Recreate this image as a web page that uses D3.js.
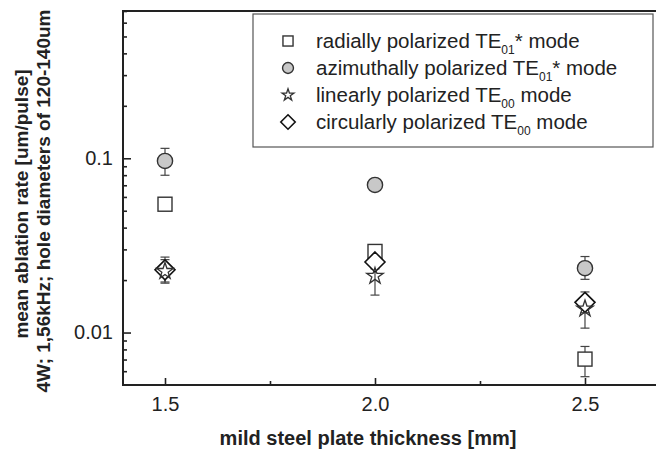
<!doctype html>
<html>
<head>
<meta charset="utf-8">
<script src="https://d3js.org/d3.v7.min.js"></script>
<style>
  body { margin: 0; background: #fff; }
  text { font-family: "Liberation Sans", Arial, sans-serif; fill: #222; }
</style>
</head>
<body>
<svg width="656" height="454" id="chart"></svg>
<script>
// plate thickness [mm]
var thickness = [1.5, 2.0, 2.5];

// radially polarized TE01* mode
var radialVal = [0.0545, 0.0292, 0.00704];
var radialLo  = [0.0535, 0.0275, 0.00558];
var radialHi  = [0.0555, 0.0305, 0.00832];

// azimuthally polarized TE01* mode
var azimVal = [0.0965, 0.0703, 0.0234];
var azimLo  = [0.0799, 0.0685, 0.0202];
var azimHi  = [0.114, 0.0720, 0.0273];

// linearly polarized TE00 mode
var linVal = [0.0225, 0.0211, 0.0137];
var linLo  = [0.0195, 0.0164, 0.0106];
var linHi  = [0.0262, 0.0262, 0.0160];

// circularly polarized TE00 mode
var circVal = [0.0229, 0.0254, 0.0149];
var circLo  = [0.0192, 0.0232, 0.0130];
var circHi  = [0.0271, 0.0280, 0.0171];

var xTicks = [1.5, 2.0, 2.5];
var xMinor = [1.75, 2.25];
var yTicks = [0.01, 0.1];
var yMinor = [0.006, 0.007, 0.008, 0.009, 0.02, 0.03, 0.04, 0.05, 0.06, 0.07, 0.08, 0.09,
              0.2, 0.3, 0.4, 0.5, 0.6, 0.7];

var svg = d3.select("#chart");
var pLeft = 123, pRight = 660, pTop = 11, pBottom = 385;

var x = d3.scaleLinear().domain([1.4, 2.6786]).range([pLeft, pRight]);
var y = d3.scaleLog().domain([0.005, 0.7]).range([pBottom, pTop]);

// axes
var gx = svg.append("g").attr("transform", "translate(0," + pBottom + ")");
gx.call(d3.axisBottom(x).tickValues(xTicks).tickSizeInner(-7).tickSizeOuter(0)
        .tickPadding(12).tickFormat(d3.format(".1f")));
gx.append("g").call(d3.axisBottom(x).tickValues(xMinor).tickSizeInner(-4).tickSizeOuter(0).tickFormat(""));

var gy = svg.append("g").attr("transform", "translate(" + pLeft + ",0)");
gy.call(d3.axisLeft(y).tickValues(yTicks).tickSizeInner(-8).tickSizeOuter(0)
        .tickPadding(10).tickFormat(function(d) { return d; }));
gy.append("g").call(d3.axisLeft(y).tickValues(yMinor).tickSizeInner(-4).tickSizeOuter(0).tickFormat(""));

svg.selectAll(".domain").remove();
svg.selectAll(".tick line").attr("stroke", "#222").attr("stroke-width", 1.6);
svg.selectAll(".tick text").attr("font-size", 20).attr("fill", "#333").attr("font-family", "Liberation Sans, Arial, sans-serif");

// frame
svg.append("path")
   .attr("d", "M" + pRight + "," + pTop + "H" + pLeft + "V" + pBottom + "H" + pRight)
   .attr("fill", "none").attr("stroke", "#222").attr("stroke-width", 2);

// axis titles
svg.append("text")
   .attr("x", 368).attr("y", 445)
   .attr("text-anchor", "middle").attr("font-size", 20).attr("font-weight", "bold")
   .text("mild steel plate thickness [mm]");

svg.append("text")
   .attr("transform", "translate(28,204) rotate(-90)")
   .attr("text-anchor", "middle").attr("font-size", 19).attr("font-weight", "bold")
   .text("mean ablation rate [um/pulse]");
svg.append("text")
   .attr("transform", "translate(50,201) rotate(-90)")
   .attr("text-anchor", "middle").attr("font-size", 19).attr("font-weight", "bold")
   .text("4W; 1,56kHz; hole diameters of 120-140um");

// series
var series = [
  { val: radialVal, lo: radialLo, hi: radialHi, shape: "square" },
  { val: azimVal, lo: azimLo, hi: azimHi, shape: "circle" },
  { val: circVal, lo: circLo, hi: circHi, shape: "diamond" },
  { val: linVal, lo: linLo, hi: linHi, shape: "star" }
];

function marker(g, shape, scale) {
  var s = scale || 1;
  if (shape === "square") {
    g.append("rect").attr("x", -7 * s).attr("y", -7 * s).attr("width", 14 * s).attr("height", 14 * s)
     .attr("fill", "#fff").attr("stroke", "#333").attr("stroke-width", 1.4);
  } else if (shape === "circle") {
    g.append("circle").attr("r", 7.6 * s)
     .attr("fill", "#c8c8c8").attr("stroke", "#333").attr("stroke-width", 1.4);
  } else if (shape === "diamond") {
    var h = 10 * s;
    g.append("path").attr("d", "M0," + (-h) + "L" + h + ",0L0," + h + "L" + (-h) + ",0Z")
     .attr("fill", "#fff").attr("stroke", "#111").attr("stroke-width", 1.6);
  } else {
    g.append("path").attr("d", d3.symbol().type(d3.symbolStar).size(85 * s * s)())
     .attr("fill", "none").attr("stroke", "#333").attr("stroke-width", 1.3);
  }
}

series.forEach(function(sr) {
  var g = svg.append("g");
  thickness.forEach(function(t, i) {
    var cx = x(t);
    g.append("line").attr("x1", cx).attr("x2", cx).attr("y1", y(sr.lo[i])).attr("y2", y(sr.hi[i]))
     .attr("stroke", "#444").attr("stroke-width", 1.2);
    [sr.lo[i], sr.hi[i]].forEach(function(v) {
      g.append("line").attr("x1", cx - 4.5).attr("x2", cx + 4.5).attr("y1", y(v)).attr("y2", y(v))
       .attr("stroke", "#444").attr("stroke-width", 1.2);
    });
  });
});

series.forEach(function(sr) {
  thickness.forEach(function(t, i) {
    var m = svg.append("g").attr("transform", "translate(" + x(t) + "," + y(sr.val[i]) + ")");
    marker(m, sr.shape, 1);
  });
});

// legend
var legend = svg.append("g");
legend.append("rect").attr("x", 253).attr("y", 14).attr("width", 400).attr("height", 133)
      .attr("fill", "#fff").attr("stroke", "#555").attr("stroke-width", 1.2);

var legendShapes = ["square", "circle", "star", "diamond"];
var legendMain = ["radially polarized TE", "azimuthally polarized TE", "linearly polarized TE", "circularly polarized TE"];
var legendSub = ["01", "01", "00", "00"];
var legendEnd = ["* mode", "* mode", " mode", " mode"];

legendShapes.forEach(function(s, i) {
  var cy = 41 + i * 27;
  var m = legend.append("g").attr("transform", "translate(288," + cy + ")");
  marker(m, s, 0.72);
  var t = legend.append("text").attr("x", 316).attr("y", cy + 7).attr("font-size", 20.5);
  t.append("tspan").text(legendMain[i]);
  t.append("tspan").attr("font-size", 12).attr("dy", 6).text(legendSub[i]);
  t.append("tspan").attr("dy", -6).text(legendEnd[i]);
});
</script>
</body>
</html>
